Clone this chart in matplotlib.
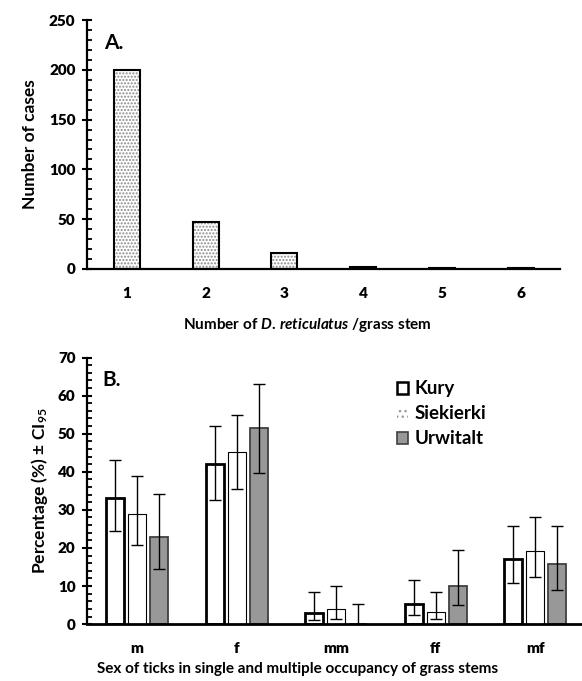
import matplotlib
matplotlib.use('Agg')
import matplotlib.pyplot as plt
import numpy as np
from matplotlib.patches import Patch
from matplotlib.ticker import MultipleLocator

plt.rcParams['font.family'] = ['Lato', 'DejaVu Sans']
plt.rcParams['font.weight'] = 'bold'
plt.rcParams['axes.labelweight'] = 'bold'
plt.rcParams['mathtext.fontset'] = 'custom'
plt.rcParams['mathtext.rm'] = 'Lato:bold'
plt.rcParams['mathtext.it'] = 'Lato:bold:italic'
plt.rcParams['mathtext.bf'] = 'Lato:bold'
plt.rcParams['mathtext.default'] = 'rm'
plt.rcParams['hatch.linewidth'] = 1.0

# Panel A data
n_ticks = ['1', '2', '3', '4', '5', '6']
n_cases = [200, 47, 16, 2, 1, 1]

# Panel B data
sex_cats = ['m', 'f', 'mm', 'ff', 'mf']
sites = ['Kury', 'Siekierki', 'Urwitalt']
pct = {
    'Kury':      [33.0, 42.0, 3.0, 5.2, 17.2],
    'Siekierki': [29.0, 45.2, 4.1, 3.1, 19.1],
    'Urwitalt':  [23.0, 51.4, 0.0, 10.0, 15.7],
}
ci_low = {
    'Kury':      [24.5, 32.5, 1.1, 2.4, 10.7],
    'Siekierki': [20.8, 35.6, 1.3, 1.3, 12.5],
    'Urwitalt':  [14.6, 39.8, 0.0, 5.0, 8.9],
}
ci_high = {
    'Kury':      [43.0, 52.0, 8.5, 11.5, 25.8],
    'Siekierki': [38.9, 54.9, 10.0, 8.5, 28.0],
    'Urwitalt':  [34.1, 63.1, 5.2, 19.4, 25.8],
}

fig = plt.figure(figsize=(5.82, 6.81), dpi=100)


def style_axis(ax, minor):
    for s in ['top', 'right']:
        ax.spines[s].set_visible(False)
    ax.spines['left'].set_linewidth(1.6)
    ax.spines['bottom'].set_linewidth(1.6)
    ax.yaxis.set_minor_locator(MultipleLocator(minor))
    ax.tick_params(axis='y', which='major', direction='inout', length=7, width=1.5,
                   labelsize=11, pad=5)
    ax.tick_params(axis='y', which='minor', direction='in', length=3.5, width=1.3)
    ax.tick_params(axis='x', length=0, labelsize=11)
    for lab in ax.get_xticklabels() + ax.get_yticklabels():
        lab.set_fontweight('heavy')


# ---- Panel A ----
axA = fig.add_axes([0.150, 0.605, 0.813, 0.3656])
x = np.arange(len(n_ticks))
axA.bar(x, n_cases, width=0.33, color='white', edgecolor='#8a8a8a',
        hatch='.....', linewidth=0)
axA.bar(x, n_cases, width=0.33, color='none', edgecolor='black', linewidth=1.5)
axA.set_xlim(-0.5, len(n_ticks) - 0.5)
axA.set_ylim(0, 250)
axA.set_yticks(np.arange(0, 251, 50))
axA.set_xticks(x)
axA.set_xticklabels(n_ticks)
style_axis(axA, 10)
axA.tick_params(axis='x', pad=13)
axA.set_ylabel('Number of cases', fontsize=12.5, fontweight='bold', labelpad=8)
axA.set_xlabel(r'Number of $\it{D.\,reticulatus}$ /grass stem', fontsize=11,
               fontweight='bold')
axA.xaxis.set_label_coords(0.465, -0.19)
axA.text(0.035, 0.907, 'A.', transform=axA.transAxes, fontsize=15,
         fontweight='bold', va='center')

# ---- Panel B ----
axB = fig.add_axes([0.150, 0.0835, 0.855, 0.3915])
xb = np.arange(len(sex_cats))
w = 0.18
offs = [-0.221, 0.0, 0.221]
styles = {
    'Kury': dict(color='white', edgecolor='black', linewidth=2.0),
    'Siekierki': dict(color='white', edgecolor='black', linewidth=0.8),
    'Urwitalt': dict(color='#989898', edgecolor='#404040', linewidth=1.3),
}
for site, off in zip(sites, offs):
    vals = np.array(pct[site])
    lo = vals - np.array(ci_low[site])
    hi = np.array(ci_high[site]) - vals
    if site == 'Siekierki':
        axB.bar(xb + off, vals, width=w, color='white', edgecolor='#9a9a9a',
                hatch='..', linewidth=0)
    axB.bar(xb + off, vals, width=w, **styles[site])
    axB.errorbar(xb + off, vals, yerr=[lo, hi], fmt='none', ecolor='black',
                 elinewidth=1.0, capsize=4, capthick=1.0)
axB.set_xlim(-0.5, len(sex_cats) - 0.5)
axB.set_ylim(0, 70)
axB.set_yticks(np.arange(0, 71, 10))
axB.set_xticks(xb)
axB.set_xticklabels(sex_cats)
style_axis(axB, 2)
axB.spines['bottom'].set_linewidth(2.0)
axB.tick_params(axis='x', pad=13)
axB.set_ylabel(r'Percentage (%) ± CI$_{95}$', fontsize=12.5, fontweight='bold', labelpad=6)
axB.set_xlabel('Sex of ticks in single and multiple occupancy of grass stems',
               fontsize=11, fontweight='bold')
axB.xaxis.set_label_coords(0.422, -0.142)
axB.text(0.030, 0.914, 'B.', transform=axB.transAxes, fontsize=15,
         fontweight='bold', va='center')

handles = [
    Patch(facecolor='white', edgecolor='black', linewidth=1.8, label='Kury'),
    Patch(facecolor='white', edgecolor='#9a9a9a', hatch='...', linewidth=0, label='Siekierki'),
    Patch(facecolor='#989898', edgecolor='#404040', linewidth=1.2, label='Urwitalt'),
]
leg = axB.legend(handles=handles, loc='upper left', bbox_to_anchor=(0.622, 0.915),
                 frameon=False, fontsize=13.5, handlelength=0.6, handleheight=0.6,
                 handletextpad=0.35, labelspacing=0.43, borderpad=0, borderaxespad=0)
for t in leg.get_texts():
    t.set_fontweight('bold')

fig.savefig('out.png', dpi=100)
